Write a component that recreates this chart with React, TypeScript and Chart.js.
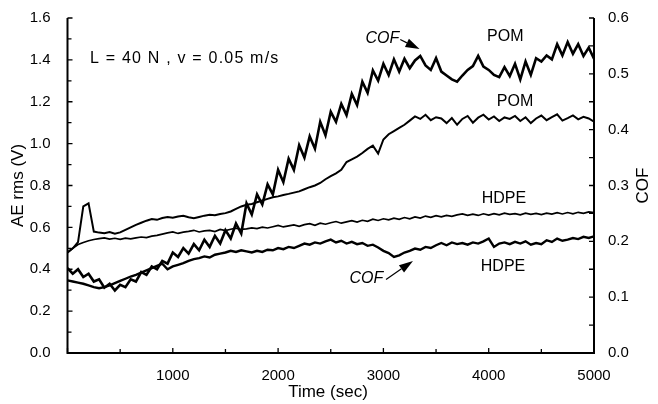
import React, { useEffect, useRef } from "react";
import { Chart, registerables } from "chart.js";

Chart.register(...registerables);

// ---------- data ----------
const timeSec = [
  0, 50, 100, 150, 200, 250, 300, 350, 400, 450, 500, 550, 600, 650, 700, 750, 800, 850, 900, 950,
  1000, 1050, 1100, 1150, 1200, 1250, 1300, 1350, 1400, 1450, 1500, 1550, 1600, 1650, 1700, 1750, 1800, 1850, 1900, 1950,
  2000, 2050, 2100, 2150, 2200, 2250, 2300, 2350, 2400, 2450, 2500, 2550, 2600, 2650, 2700, 2750, 2800, 2850, 2900, 2950,
  3000, 3050, 3100, 3150, 3200, 3250, 3300, 3350, 3400, 3450, 3500, 3550, 3600, 3650, 3700, 3750, 3800, 3850, 3900, 3950,
  4000, 4050, 4100, 4150, 4200, 4250, 4300, 4350, 4400, 4450, 4500, 4550, 4600, 4650, 4700, 4750, 4800, 4850, 4900, 4950,
  5000,
];

// AE rms (V), left axis
const pomAE = [
  0.48, 0.5, 0.53, 0.7, 0.715, 0.58, 0.575, 0.572, 0.578, 0.57, 0.576, 0.588, 0.6, 0.612, 0.622, 0.632, 0.64, 0.636, 0.645, 0.65,
  0.646, 0.652, 0.655, 0.648, 0.644, 0.65, 0.656, 0.66, 0.658, 0.664, 0.668, 0.676, 0.688, 0.7, 0.708, 0.712, 0.72, 0.728, 0.736, 0.744,
  0.748, 0.755, 0.76, 0.766, 0.772, 0.782, 0.792, 0.8, 0.812, 0.83, 0.845, 0.858, 0.875, 0.912, 0.925, 0.938, 0.955, 0.975, 0.99, 0.952,
  1.02, 1.045, 1.06, 1.075, 1.09, 1.11, 1.13, 1.118, 1.138, 1.112, 1.126, 1.12, 1.098, 1.122, 1.09, 1.118, 1.132, 1.1, 1.124, 1.138,
  1.115, 1.13, 1.108, 1.125, 1.118, 1.132, 1.108, 1.126, 1.098, 1.12, 1.134, 1.112, 1.126, 1.14, 1.11, 1.122, 1.135, 1.116, 1.128, 1.12,
  1.105,
];

const hdpeAE = [
  0.48, 0.5, 0.518, 0.528, 0.536, 0.542, 0.546, 0.55, 0.544, 0.548, 0.543, 0.549, 0.545, 0.55, 0.554, 0.551, 0.558, 0.562, 0.568, 0.574,
  0.578, 0.571, 0.577, 0.581, 0.586, 0.578, 0.583, 0.586, 0.58, 0.59, 0.585, 0.591, 0.596, 0.59, 0.593, 0.598, 0.594, 0.601, 0.597, 0.603,
  0.609, 0.602, 0.607, 0.612, 0.605, 0.613, 0.618, 0.61, 0.62, 0.615, 0.622, 0.628, 0.62, 0.626, 0.632, 0.625, 0.634, 0.629, 0.639, 0.633,
  0.641, 0.636, 0.644, 0.638, 0.647, 0.641, 0.65, 0.644, 0.654, 0.648, 0.656, 0.65, 0.657, 0.653, 0.66, 0.664, 0.657, 0.663, 0.657, 0.665,
  0.659, 0.666, 0.66, 0.668, 0.662, 0.666, 0.66, 0.668, 0.662, 0.667, 0.661, 0.668, 0.663, 0.67, 0.664, 0.671, 0.665, 0.672, 0.667, 0.674,
  0.67,
];

// COF, right axis
const pomCOF = [
  0.152, 0.142, 0.15, 0.136, 0.142, 0.128, 0.132, 0.117, 0.124, 0.112, 0.122, 0.118, 0.132, 0.128, 0.145, 0.14, 0.155, 0.15, 0.165, 0.16,
  0.18, 0.172, 0.188, 0.178, 0.195, 0.184, 0.203, 0.19, 0.21, 0.196, 0.22, 0.205, 0.232, 0.214, 0.268, 0.248, 0.284, 0.266, 0.302, 0.284,
  0.328, 0.306, 0.348, 0.328, 0.372, 0.35, 0.388, 0.366, 0.414, 0.39, 0.432, 0.414, 0.446, 0.426, 0.464, 0.444, 0.486, 0.466, 0.506, 0.488,
  0.518, 0.498, 0.526, 0.504, 0.527, 0.51, 0.524, 0.532, 0.515, 0.507, 0.528, 0.504, 0.497, 0.49, 0.486, 0.497, 0.507, 0.514, 0.532, 0.513,
  0.507, 0.498, 0.494, 0.512, 0.496, 0.518, 0.49, 0.522, 0.498, 0.528, 0.522, 0.533, 0.526, 0.553, 0.533, 0.557, 0.536, 0.553, 0.532, 0.547,
  0.527,
];

const hdpeCOF = [
  0.13, 0.128, 0.126, 0.124, 0.121, 0.118, 0.116, 0.118, 0.121, 0.125, 0.129, 0.133, 0.137, 0.14, 0.144, 0.148, 0.152, 0.156, 0.16, 0.15,
  0.155, 0.158, 0.161, 0.165, 0.168, 0.17, 0.173, 0.171, 0.176, 0.178, 0.18, 0.183, 0.181, 0.184, 0.182, 0.18, 0.183, 0.181, 0.185, 0.184,
  0.188, 0.186, 0.19, 0.188, 0.192, 0.196, 0.194, 0.198, 0.196, 0.2, 0.203, 0.198, 0.201, 0.196, 0.199, 0.195, 0.197, 0.192, 0.194, 0.189,
  0.183, 0.179, 0.172, 0.175, 0.18, 0.183, 0.187, 0.185, 0.19, 0.188, 0.193, 0.197, 0.193, 0.198, 0.195, 0.197, 0.194, 0.198, 0.196, 0.2,
  0.205, 0.19, 0.196, 0.198, 0.195, 0.199, 0.196, 0.2, 0.194, 0.197, 0.195, 0.202, 0.199, 0.205, 0.201, 0.203, 0.206, 0.204, 0.208, 0.206,
  0.209,
];

const xTickLabels = ["1000", "2000", "3000", "4000", "5000"];
const aeTickLabels = ["0.0", "0.2", "0.4", "0.6", "0.8", "1.0", "1.2", "1.4", "1.6"];
const cofTickLabels = ["0.0", "0.1", "0.2", "0.3", "0.4", "0.5", "0.6"];

const FONT = '"Liberation Sans", Arial, Helvetica, sans-serif';

// annotation anchors in data units (time, AE rms)
const notes = [
  { text: "L = 40 N , v = 0.05 m/s", t: 214, ae: 1.407, align: "left", italic: false, spacing: 1.2 },
  { text: "POM", t: 4158, ae: 1.512, align: "center", italic: false, spacing: 0 },
  { text: "POM", t: 4250, ae: 1.201, align: "center", italic: false, spacing: 0 },
  { text: "HDPE", t: 4145, ae: 0.739, align: "center", italic: false, spacing: 0 },
  { text: "HDPE", t: 4136, ae: 0.414, align: "center", italic: false, spacing: 0 },
  { text: "COF", t: 2991, ae: 1.504, align: "center", italic: true, spacing: 0 },
  { text: "COF", t: 2838, ae: 0.356, align: "center", italic: true, spacing: 0 },
];
const arrows = [
  { t0: 3160, ae0: 1.497, t1: 3343, ae1: 1.452 },
  { t0: 3025, ae0: 0.351, t1: 3281, ae1: 0.44 },
];

const customPlugin = {
  id: "customAxesAndNotes",
  afterDraw(chart: any) {
    const ctx = chart.ctx as CanvasRenderingContext2D;
    const { left, right, top, bottom } = chart.chartArea;
    const xs = chart.scales.x;
    const ys = chart.scales.y;
    const y1 = chart.scales.y1;
    ctx.save();
    ctx.strokeStyle = "#000";
    ctx.fillStyle = "#000";
    // axis lines
    ctx.lineWidth = 2;
    ctx.beginPath();
    ctx.moveTo(left, top);
    ctx.lineTo(left, bottom);
    ctx.lineTo(right, bottom);
    ctx.lineTo(right, top);
    ctx.stroke();
    // inward ticks
    ctx.lineWidth = 1.3;
    ctx.beginPath();
    xs.ticks.forEach((tk: any) => {
      const p = xs.getPixelForValue(tk.value);
      const len = tk.value % 1000 === 0 ? 5 : 4;
      ctx.moveTo(p, bottom);
      ctx.lineTo(p, bottom - len);
    });
    ys.ticks.forEach((tk: any) => {
      const p = ys.getPixelForValue(tk.value);
      const major = Math.round(tk.value * 10) % 2 === 0;
      ctx.moveTo(left, p);
      ctx.lineTo(left + (major ? 5 : 4), p);
    });
    y1.ticks.forEach((tk: any) => {
      const p = y1.getPixelForValue(tk.value);
      ctx.moveTo(right, p);
      ctx.lineTo(right - 5, p);
    });
    ctx.stroke();

    // annotations
    ctx.textBaseline = "middle";
    notes.forEach((n) => {
      ctx.font = `${n.italic ? "italic " : ""}16px ${FONT}`;
      (ctx as any).letterSpacing = `${n.spacing}px`;
      ctx.textAlign = n.align as CanvasTextAlign;
      ctx.fillText(n.text, xs.getPixelForValue(n.t), ys.getPixelForValue(n.ae));
    });
    (ctx as any).letterSpacing = "0px";
    arrows.forEach((a) => {
      const x0 = xs.getPixelForValue(a.t0);
      const y0 = ys.getPixelForValue(a.ae0);
      const x1 = xs.getPixelForValue(a.t1);
      const yy1 = ys.getPixelForValue(a.ae1);
      const ang = Math.atan2(yy1 - y0, x1 - x0);
      const hl = 14;
      const hw = 4.5;
      const bx = x1 - hl * Math.cos(ang);
      const by = yy1 - hl * Math.sin(ang);
      ctx.lineWidth = 1.2;
      ctx.beginPath();
      ctx.moveTo(x0, y0);
      ctx.lineTo(bx, by);
      ctx.stroke();
      ctx.beginPath();
      ctx.moveTo(x1, yy1);
      ctx.lineTo(bx + hw * Math.sin(ang), by - hw * Math.cos(ang));
      ctx.lineTo(bx - hw * Math.sin(ang), by + hw * Math.cos(ang));
      ctx.closePath();
      ctx.fill();
    });

    // axis titles
    const midY = (top + bottom) / 2;
    ctx.font = `17px ${FONT}`;
    ctx.textAlign = "center";
    ctx.textBaseline = "middle";
    ctx.save();
    ctx.translate(18, midY);
    ctx.rotate(-Math.PI / 2);
    ctx.fillText("AE rms (V)", 0, 0);
    ctx.restore();
    ctx.save();
    ctx.translate(643, midY);
    ctx.rotate(-Math.PI / 2);
    ctx.fillText("COF", 0, 0);
    ctx.restore();
    ctx.fillText("Time (sec)", 328, 392);
    ctx.restore();
  },
};

export default function App() {
  const canvasRef = useRef<HTMLCanvasElement | null>(null);

  useEffect(() => {
    const canvas = canvasRef.current;
    if (!canvas) return;
    const mk = (vals: number[]) => timeSec.map((t, i) => ({ x: t, y: vals[i] }));
    const chart = new Chart(canvas, {
      type: "line",
      data: {
        datasets: [
          { label: "POM AE", data: mk(pomAE), yAxisID: "y", borderColor: "#000", borderWidth: 2, pointRadius: 0, tension: 0 },
          { label: "HDPE AE", data: mk(hdpeAE), yAxisID: "y", borderColor: "#000", borderWidth: 1.7, pointRadius: 0, tension: 0 },
          { label: "POM COF", data: mk(pomCOF), yAxisID: "y1", borderColor: "#000", borderWidth: 2.6, pointRadius: 0, tension: 0 },
          { label: "HDPE COF", data: mk(hdpeCOF), yAxisID: "y1", borderColor: "#000", borderWidth: 2.4, pointRadius: 0, tension: 0 },
        ],
      },
      options: {
        responsive: false,
        animation: false,
        devicePixelRatio: 1,
        layout: { padding: { top: 13, left: 0, right: 0, bottom: 0 } },
        plugins: { legend: { display: false }, tooltip: { enabled: false } },
        scales: {
          x: {
            type: "linear",
            min: 0,
            max: 5000,
            grid: { display: false },
            border: { display: false },
            ticks: {
              stepSize: 500,
              autoSkip: false,
              maxRotation: 0,
              padding: 6,
              color: "#000",
              font: { size: 15, family: FONT },
              callback: (v: any) => (xTickLabels.includes(String(v)) ? String(v) : ""),
            },
            afterFit: (s: any) => {
              s.height = 51;
            },
          },
          y: {
            type: "linear",
            position: "left",
            min: 0,
            max: 1.6,
            grid: { display: false },
            border: { display: false },
            ticks: {
              stepSize: 0.1,
              autoSkip: false,
              padding: 9,
              color: "#000",
              font: { size: 15, family: FONT },
              callback: (v: any) => {
                const n = Math.round(v * 10);
                const s = (n / 10).toFixed(1);
                return n % 2 === 0 && aeTickLabels.includes(s) ? s : "";
              },
            },
            afterFit: (s: any) => {
              s.width = 67.5;
            },
          },
          y1: {
            type: "linear",
            position: "right",
            min: 0,
            max: 0.6,
            grid: { display: false },
            border: { display: false },
            ticks: {
              stepSize: 0.05,
              autoSkip: false,
              padding: 6,
              color: "#000",
              font: { size: 15, family: FONT },
              callback: (v: any) => {
                const n = v * 10;
                if (Math.abs(n - Math.round(n)) > 1e-6) return "";
                const s = (Math.round(n) / 10).toFixed(1);
                return cofTickLabels.includes(s) ? s : "";
              },
            },
            afterFit: (s: any) => {
              s.width = 64;
            },
          },
        },
      },
      plugins: [customPlugin],
    } as any);
    return () => chart.destroy();
  }, []);

  return (
    <div style={{ position: "fixed", left: 0, top: 0, width: 658, height: 404, background: "#fff" }}>
      <canvas ref={canvasRef} width={658} height={404} style={{ display: "block" }} />
    </div>
  );
}
